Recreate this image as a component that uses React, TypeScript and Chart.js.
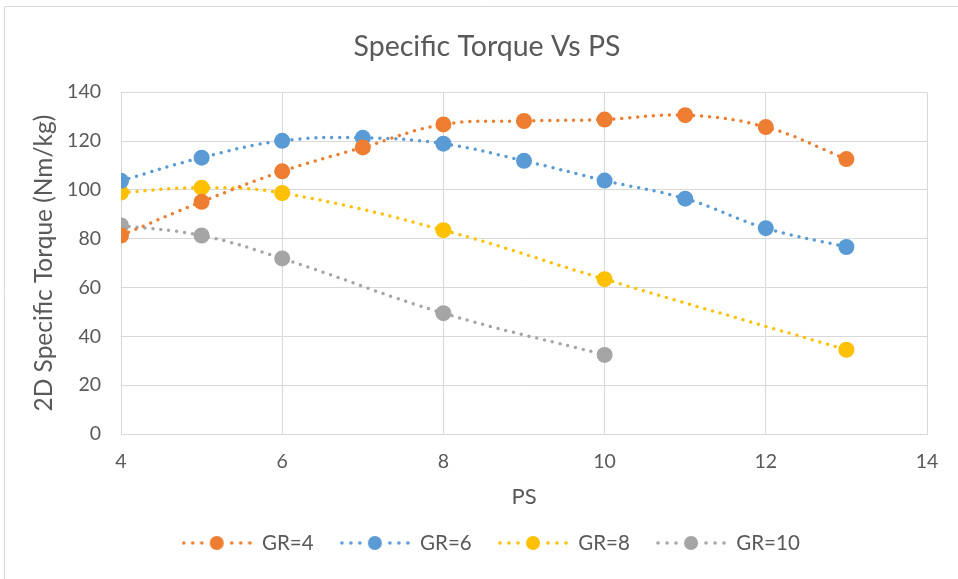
import { useEffect, useRef } from "react";
import { Chart, registerables } from "chart.js";

Chart.register(...registerables);

const chartTitle = "Specific Torque Vs PS";
const xAxisTitle = "PS";
const yAxisTitle = "2D Specific Torque (Nm/kg)";

const seriesNames = ["GR=4", "GR=6", "GR=8", "GR=10"];
const seriesColors = ["#ED7D31", "#5B9BD5", "#FFC000", "#A5A5A5"];

const psGR4 = [4, 5, 6, 7, 8, 9, 10, 11, 12, 13];
const torqueGR4 = [81.3, 95.1, 107.6, 117.4, 126.8, 128.2, 128.8, 130.6, 125.7, 112.6];

const psGR6 = [4, 5, 6, 7, 8, 9, 10, 11, 12, 13];
const torqueGR6 = [103.7, 113.2, 120.1, 121.3, 118.9, 111.9, 103.8, 96.4, 84.3, 76.6];

const psGR8 = [4, 5, 6, 8, 10, 13];
const torqueGR8 = [98.9, 100.9, 98.7, 83.5, 63.4, 34.5];

const psGR10 = [4, 5, 6, 8, 10];
const torqueGR10 = [85.4, 81.3, 71.9, 49.5, 32.4];

const xTicks = [4, 6, 8, 10, 12, 14];
const yTicks = [0, 20, 40, 60, 80, 100, 120, 140];

const FONT = "Lato";
const TEXT = "#595959";
const GRID = "#D9D9D9";

function makeLegendIcon(color: string): HTMLCanvasElement {
  const c = document.createElement("canvas");
  c.width = 70;
  c.height = 18;
  const g = c.getContext("2d")!;
  g.fillStyle = color;
  const dots = [2, 11, 20, 50, 59, 68];
  dots.forEach((d) => {
    g.beginPath();
    g.arc(d, 9, 1.8, 0, Math.PI * 2);
    g.fill();
  });
  g.beginPath();
  g.arc(35, 9, 7, 0, Math.PI * 2);
  g.fill();
  return c;
}

export default function App() {
  const ref = useRef<HTMLCanvasElement | null>(null);

  useEffect(() => {
    if (!ref.current) return;
    const xs = [psGR4, psGR6, psGR8, psGR10];
    const ys = [torqueGR4, torqueGR6, torqueGR8, torqueGR10];
    const icons = seriesColors.map(makeLegendIcon);

    const datasets = seriesNames.map((name, i) => ({
      label: name,
      data: xs[i].map((x, j) => ({ x, y: ys[i][j] })),
      borderColor: seriesColors[i],
      backgroundColor: seriesColors[i],
      borderWidth: 3.5,
      borderDash: [0, 8],
      borderCapStyle: "round" as const,
      tension: 0.4,
      pointRadius: 8,
      pointHoverRadius: 8,
      pointBorderWidth: 0,
      pointBackgroundColor: seriesColors[i],
      pointStyle: "circle" as const,
      fill: false,
    }));

    const framePlugin = {
      id: "frame",
      beforeDraw(chart: any) {
        const { ctx, width, height } = chart;
        ctx.save();
        ctx.fillStyle = "#FFFFFF";
        ctx.fillRect(0, 0, width, height);
        ctx.strokeStyle = GRID;
        ctx.lineWidth = 1;
        ctx.beginPath();
        ctx.moveTo(4.5, height + 2);
        ctx.lineTo(4.5, 6.5);
        ctx.lineTo(width + 2, 6.5);
        ctx.stroke();
        ctx.restore();
      },
    };

    const boxShift = {
      id: "boxShift",
      afterLayout(chart: any) {
        const lg = chart.legend;
        if (lg) {
          const w = lg.right - lg.left;
          lg.left = 155.5;
          lg.right = 155.5 + w;
        }
        const tt = chart.titleBlock;
        if (tt) {
          tt.left = 47;
          tt.right = 927;
        }
      },
    };

    const chart = new Chart(ref.current, {
      type: "line",
      data: { datasets },
      plugins: [framePlugin, boxShift],
      options: {
        animation: false,
        responsive: false,
        maintainAspectRatio: false,
        layout: { padding: { left: 0, right: 31, top: 0, bottom: 15.75 } },
        plugins: {
          tooltip: { enabled: false },
          title: {
            display: true,
            text: chartTitle,
            color: TEXT,
            font: { family: FONT, size: 28.5, weight: "normal" },
            padding: { top: 30, bottom: 28 },
          },
          legend: {
            display: true,
            position: "bottom",
            align: "start",
            labels: {
              color: TEXT,
              font: { family: FONT, size: 20.5 },
              usePointStyle: true,
              pointStyleWidth: 70,
              padding: 26.25,
              generateLabels: () =>
                seriesNames.map((name, i) => ({
                  text: name,
                  pointStyle: icons[i],
                  fillStyle: seriesColors[i],
                  strokeStyle: seriesColors[i],
                  lineWidth: 0,
                  hidden: false,
                  datasetIndex: i,
                  fontColor: TEXT,
                })),
            },
          },
        },
        scales: {
          x: {
            type: "linear",
            min: xTicks[0],
            max: xTicks[xTicks.length - 1],
            ticks: {
              stepSize: xTicks[1] - xTicks[0],
              color: TEXT,
              font: { family: FONT, size: 19.5 },
              padding: 16,
            },
            grid: { color: GRID, lineWidth: 1, drawTicks: false },
            border: { color: GRID, width: 1 },
            title: {
              display: true,
              text: xAxisTitle,
              color: TEXT,
              font: { family: FONT, size: 22 },
              padding: { top: 0, bottom: -3.7 },
            },
            afterFit(scale: any) {
              scale.height = 72.5;
            },
          },
          y: {
            type: "linear",
            min: yTicks[0],
            max: yTicks[yTicks.length - 1],
            ticks: {
              stepSize: yTicks[1] - yTicks[0],
              color: TEXT,
              font: { family: FONT, size: 19.5 },
              padding: 20,
            },
            grid: { color: GRID, lineWidth: 1, drawTicks: false },
            border: { color: GRID, width: 1 },
            title: {
              display: true,
              text: yAxisTitle,
              color: TEXT,
              font: { family: FONT, size: 24.5 },
              padding: { top: 29, bottom: 0 },
            },
            afterFit(scale: any) {
              scale.width = 121;
            },
          },
        },
      },
    });
    return () => chart.destroy();
  }, []);

  return (
    <div style={{ position: "absolute", left: 0, top: 0, width: 958, height: 579 }}>
      <canvas ref={ref} width={958} height={579} style={{ display: "block", width: 958, height: 579 }} />
    </div>
  );
}
